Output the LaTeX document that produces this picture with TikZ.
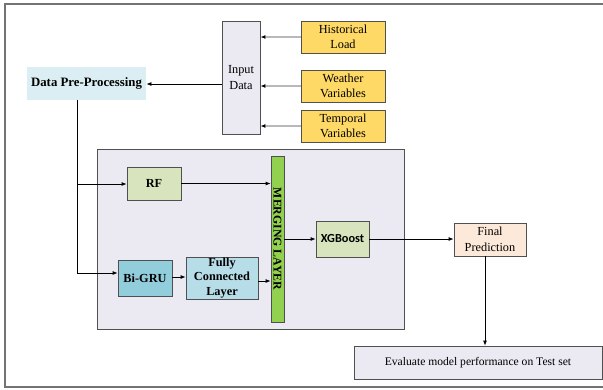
\documentclass[tikz,border=0pt]{standalone}
\usepackage{fontspec}
\setmainfont{Liberation Serif}
\newfontfamily\calfont{Carlito}
\usetikzlibrary{arrows.meta}
\definecolor{lav}{HTML}{EBE9F1}
\definecolor{gold}{HTML}{FFD966}
\definecolor{skyl}{HTML}{DAEEF3}
\definecolor{olivel}{HTML}{D7E4BD}
\definecolor{teal1}{HTML}{92CDDC}
\definecolor{teal2}{HTML}{B7DEE8}
\definecolor{grn}{HTML}{92D050}
\definecolor{peach}{HTML}{FDE9D9}
\definecolor{edge}{HTML}{505050}
\tikzset{
  box/.style={draw=edge, line width=0.8pt, inner sep=0pt, align=center,
    font=\fontsize{12.3}{15.5}\selectfont},
  bbox/.style={box, font=\fontsize{12.3}{14.5}\selectfont\bfseries},
  arr/.style={-{Latex[length=5pt,width=4pt]}, line width=0.8pt, black},
  garr/.style={-{Latex[length=5pt,width=4pt,color=black]}, line width=1.2pt, gray!55},
  ln/.style={line width=0.8pt, black}
}
\begin{document}
\begin{tikzpicture}[x=1pt, y=-1pt]
\useasboundingbox (0,0) rectangle (603,389);
% frame (open on the right)
\draw[line width=1.2pt, gray!90!black] (603,4) -- (5,4) -- (5,387) -- (603,387);
% model area
\node[box, fill=lav, minimum width=307pt, minimum height=180pt] (area) at (250.5,239) {};
% inputs
\node[box, fill=lav, minimum width=38pt, minimum height=113pt] (inp) at (241,77.5) {Input\\Data};
\node[box, fill=gold, minimum width=84pt, minimum height=32pt] (hist) at (343,37) {Historical\\Load};
\node[box, fill=gold, minimum width=84pt, minimum height=32pt] (weat) at (343,86) {Weather\\Variables};
\node[box, fill=gold, minimum width=84pt, minimum height=32pt] (temp) at (343,126) {Temporal\\Variables};
\node[bbox, draw=none, fill=skyl, minimum width=119pt, minimum height=33pt,
  font=\fontsize{12.8}{15}\selectfont\bfseries] (dpp) at (86.5,83.5) {Data Pre-Processing};
% model blocks
\node[bbox, fill=olivel, minimum width=54pt, minimum height=33pt] (rf) at (154,183.5) {RF};
\node[bbox, fill=teal1, minimum width=54pt, minimum height=36pt] (gru) at (145,278) {Bi-GRU};
\node[bbox, fill=teal2, minimum width=72pt, minimum height=42pt] (fcl) at (222,278) {Fully\\Connected\\Layer};
\node[box, fill=grn, minimum width=13pt, minimum height=166pt] (merge) at (277.5,239) {};
\node[rotate=-90, font=\fontsize{11.8}{14}\selectfont\bfseries] at (merge.center) {MERGING LAYER};
\node[box, fill=olivel, minimum width=53pt, minimum height=36pt, font=\calfont\bfseries\fontsize{12.3}{14}\selectfont] (xgb) at (342.5,239) {XGBoost};
\node[box, fill=peach, minimum width=72pt, minimum height=33pt] (fin) at (490,239.5) {Final\\Prediction};
\node[box, fill=lav, minimum width=248pt, minimum height=33pt, font=\fontsize{11.6}{14}\selectfont] (eval) at (478,362.5) {Evaluate model performance on Test set};
% connectors
\draw[garr] (hist.west) -- (inp.east |- hist.west);
\draw[garr] (weat.west) -- (inp.east |- weat.west);
\draw[garr] (temp.west) -- (inp.east |- temp.west);
\draw[arr] (inp.west |- 0,84) -- (dpp.east |- 0,84);
\coordinate (split) at (77,273);
\draw[ln] (dpp.south -| split) -- (split);
\draw[arr] (77,184) -- (rf.west |- 0,184);
\draw[arr] (split) -- (gru.west |- split);
\draw[arr] (rf.east) -- (merge.west |- rf.east);
\draw[arr] (gru.east |- 0,277) -- (fcl.west |- 0,277);
\draw[arr] (fcl.east |- 0,281) -- (merge.west |- 0,281);
\draw[arr] (merge.east |- xgb.west) -- (xgb.west);
\draw[arr] (xgb.east) -- (fin.west |- xgb.east);
\draw[arr] (fin.south -| 485,0) -- (eval.north -| 485,0);
\end{tikzpicture}
\end{document}
